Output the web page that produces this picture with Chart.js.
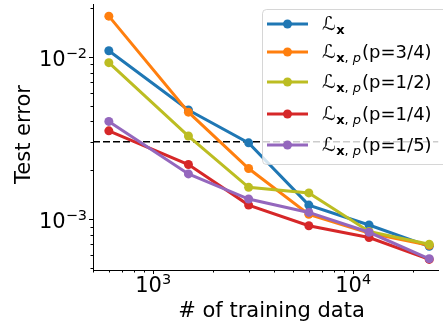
<!DOCTYPE html>
<html>
<head>
<meta charset="utf-8">
<script src="https://cdn.jsdelivr.net/npm/chart.js@4.4.0/dist/chart.umd.min.js"></script>
<style>
  html, body { margin: 0; padding: 0; background: #fff; }
  #wrap { width: 443px; height: 324px; }
</style>
</head>
<body>
<div id="wrap"><canvas id="my-chart" width="443" height="324"></canvas></div>
<script>
'use strict';

// *********** DATA ****************

let trainSizes = [600, 1500, 3000, 6000, 12000, 24000];
let lossX = [0.0109, 0.0047, 0.00295, 0.00122, 0.00092, 0.00068];
let lossP34 = [0.0178, 0.00456, 0.00205, 0.00107, 0.00082, 0.00069];
let lossP12 = [0.0092, 0.00325, 0.00157, 0.00145, 0.00084, 0.0007];
let lossP14 = [0.0035, 0.00217, 0.00122, 0.00091, 0.00077, 0.000565];
let lossP15 = [0.0040, 0.0019, 0.00133, 0.0011, 0.00083, 0.00057];
let thresholdError = 0.003;

let seriesNames = ['', '(p=3/4)', '(p=1/2)', '(p=1/4)', '(p=1/5)'];
let seriesHasP = [false, true, true, true, true];
let seriesColors = ['#1f77b4', '#ff7f0e', '#bcbd22', '#d62728', '#9467bd'];
let seriesValues = [lossX, lossP34, lossP12, lossP14, lossP15];

let xTickExps = [3, 4];
let yTickExps = [-3, -2];
let xMin = 500;
let xMax = 26700;
let yMin = 0.000486;
let yMax = 0.021;

const FONT = '"DejaVu Sans", sans-serif';

// ********** HELPERS *******************

function toPoints(values) {
  let pts = [];
  for (let i = 0; i < trainSizes.length; i++) {
    pts.push({ x: trainSizes[i], y: values[i] });
  }
  return pts;
}

// draw "10^exp" like matplotlib mathtext
function drawPower(ctx, exp, x, y, align) {
  let sup = exp < 0 ? '\u2212' + Math.abs(exp) : String(exp);
  ctx.font = '21px ' + FONT;
  let wb = ctx.measureText('10').width;
  ctx.font = '14.5px ' + FONT;
  let ws = ctx.measureText(sup).width;
  let left = align === 'right' ? x - wb - ws : x - (wb + ws) / 2;
  ctx.textAlign = 'left';
  ctx.textBaseline = 'alphabetic';
  ctx.font = '21px ' + FONT;
  ctx.fillText('10', left, y);
  ctx.font = '14.5px ' + FONT;
  ctx.fillText(sup, left + wb, y - 8);
}

function drawTicks(chart) {
  let ctx = chart.ctx;
  let xs = chart.scales.x;
  let ys = chart.scales.y;
  let area = chart.chartArea;
  ctx.save();
  ctx.strokeStyle = '#000';
  ctx.lineWidth = 1;
  ctx.fillStyle = '#000';

  // x ticks (major + minor)
  for (let e = 2; e <= 4; e++) {
    for (let m = 1; m <= 9; m++) {
      let v = m * Math.pow(10, e);
      if (v < xMin || v > xMax) continue;
      let px = Math.round(xs.getPixelForValue(v)) + 0.5;
      let len = m === 1 ? 4 : 2.5;
      ctx.beginPath();
      ctx.moveTo(px, area.bottom);
      ctx.lineTo(px, area.bottom + len);
      ctx.stroke();
    }
  }
  // y ticks (major + minor)
  for (let e = -4; e <= -2; e++) {
    for (let m = 1; m <= 9; m++) {
      let v = m * Math.pow(10, e);
      if (v < yMin || v > yMax) continue;
      let py = Math.round(ys.getPixelForValue(v)) + 0.5;
      let len = m === 1 ? 4 : 2.5;
      ctx.beginPath();
      ctx.moveTo(area.left, py);
      ctx.lineTo(area.left - len, py);
      ctx.stroke();
    }
  }

  for (let i = 0; i < xTickExps.length; i++) {
    let px = xs.getPixelForValue(Math.pow(10, xTickExps[i]));
    drawPower(ctx, xTickExps[i], px, area.bottom + 22, 'center');
  }
  for (let i = 0; i < yTickExps.length; i++) {
    let py = ys.getPixelForValue(Math.pow(10, yTickExps[i]));
    drawPower(ctx, yTickExps[i], area.left - 6, py + 9, 'right');
  }

  // axis titles
  ctx.font = '21px ' + FONT;
  ctx.textAlign = 'center';
  ctx.textBaseline = 'alphabetic';
  ctx.fillText('# of training data', 271.5, 317);
  ctx.save();
  ctx.translate(29.5, 134.5);
  ctx.rotate(-Math.PI / 2);
  ctx.fillText('Test error', 0, 0);
  ctx.restore();
  ctx.restore();
}

function drawLegend(chart) {
  let ctx = chart.ctx;
  let rowY = [24, 52, 82, 114, 145];
  ctx.save();
  ctx.beginPath();
  ctx.roundRect(262.5, 9.5, 190, 155, 4);
  ctx.fillStyle = 'rgba(255,255,255,0.8)';
  ctx.fill();
  ctx.strokeStyle = 'rgba(204,204,204,0.8)';
  ctx.lineWidth = 1;
  ctx.stroke();

  for (let i = 0; i < seriesNames.length; i++) {
    let y = rowY[i];
    ctx.strokeStyle = seriesColors[i];
    ctx.lineWidth = 3;
    ctx.beginPath();
    ctx.moveTo(267, y);
    ctx.lineTo(308, y);
    ctx.stroke();
    ctx.fillStyle = seriesColors[i];
    ctx.beginPath();
    ctx.arc(287.5, y, 4.5, 0, Math.PI * 2);
    ctx.fill();

    // mathtext-like label
    ctx.fillStyle = '#000';
    ctx.textAlign = 'left';
    ctx.textBaseline = 'alphabetic';
    let base = y + 6;
    let tx = 322;
    ctx.font = '19px ' + FONT;
    ctx.fillText('\u2112', tx, base);
    tx += ctx.measureText('\u2112').width + 0.5;
    ctx.font = 'bold 13px ' + FONT;
    ctx.fillText('x', tx, base + 4);
    tx += ctx.measureText('x').width;
    if (seriesHasP[i]) {
      ctx.font = '13px ' + FONT;
      ctx.fillText(', ', tx, base + 4);
      tx += ctx.measureText(', ').width;
      ctx.font = 'italic 13px ' + FONT;
      ctx.fillText('p', tx, base + 4);
      tx += ctx.measureText('p').width + 1;
      ctx.font = '18px ' + FONT;
      ctx.fillText(seriesNames[i], tx, base);
    }
  }
  ctx.restore();
}

// ******** CHART ***********

let ctx = document.getElementById('my-chart').getContext('2d');

let datasets = [];
for (let i = 0; i < seriesValues.length; i++) {
  datasets.push({
    label: seriesNames[i],
    data: toPoints(seriesValues[i]),
    borderColor: seriesColors[i],
    backgroundColor: seriesColors[i],
    borderWidth: 3,
    pointRadius: 4.5,
    pointBorderWidth: 0,
    pointBackgroundColor: seriesColors[i],
    order: seriesValues.length - i,
    tension: 0
  });
}
datasets.push({
  label: 'threshold',
  data: [{ x: xMin, y: thresholdError }, { x: xMax, y: thresholdError }],
  borderColor: '#000',
  borderWidth: 1.5,
  borderDash: [7, 3],
  pointRadius: 0,
  order: 20
});

let decorPlugin = {
  id: 'decor',
  afterDraw(chart) {
    drawTicks(chart);
    drawLegend(chart);
  }
};

new Chart(ctx, {
  type: 'line',
  data: { datasets: datasets },
  options: {
    responsive: false,
    animation: false,
    layout: { padding: 0 },
    plugins: {
      legend: { display: false },
      tooltip: { enabled: false }
    },
    scales: {
      x: {
        type: 'logarithmic',
        min: xMin,
        max: xMax,
        grid: { display: false },
        border: { display: true, color: '#000', width: 1 },
        ticks: { display: false },
        afterFit(scale) { scale.height = 54; }
      },
      y: {
        type: 'logarithmic',
        min: yMin,
        max: yMax,
        grid: { display: false },
        border: { display: true, color: '#000', width: 1 },
        ticks: { display: false },
        afterFit(scale) { scale.width = 93; }
      }
    }
  },
  plugins: [decorPlugin]
});
</script>
</body>
</html>
